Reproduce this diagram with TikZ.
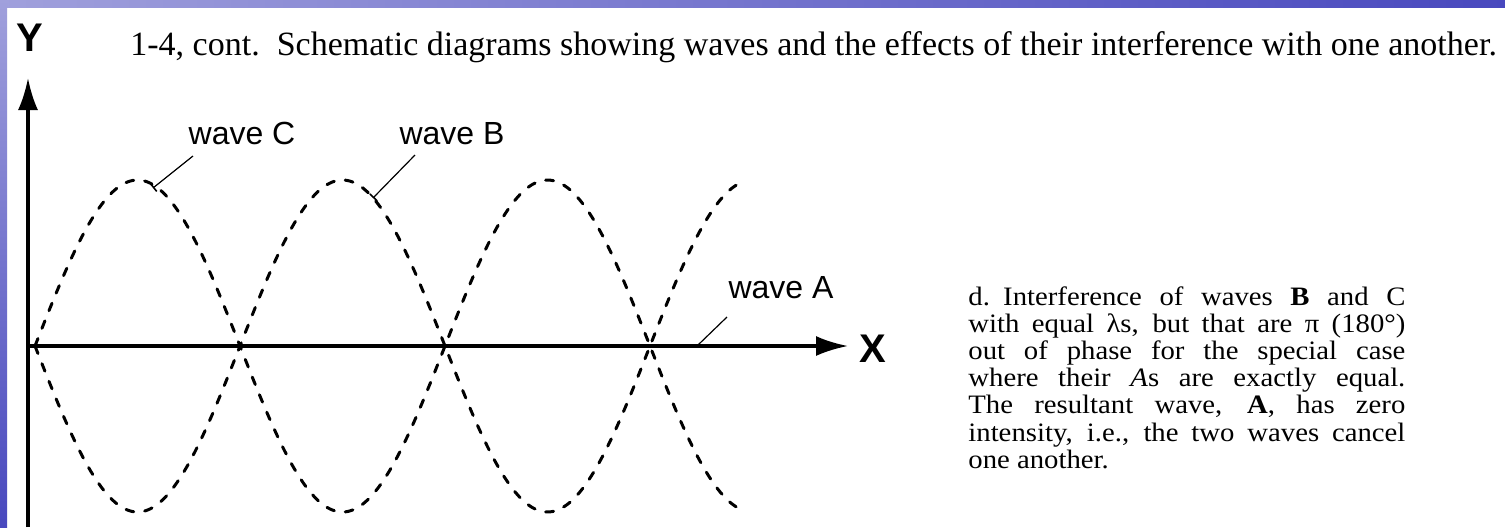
\documentclass[tikz,border=0pt]{standalone}
\usepackage{fontspec}
\setmainfont{Liberation Serif}
\setsansfont{Liberation Sans}
\newfontfamily\parafont{Liberation Serif}[FakeStretch=1.08]
\usetikzlibrary{arrows.meta}
\definecolor{frameA}{RGB}{160,160,220}
\definecolor{frameB}{RGB}{72,72,190}
\begin{document}
\begin{tikzpicture}[x=0.5pt,y=-0.5pt,
  axis/.style={line width=1.6pt,-{Latex[length=16pt,width=10pt]}},
  wave/.style={line width=1.5pt,dash pattern=on 4pt off 5.5pt,line cap=round},
  leader/.style={line width=0.6pt},
  lbl/.style={font=\sffamily\fontsize{16}{18}\selectfont,inner sep=0pt,anchor=base},
  axlbl/.style={font=\sffamily\bfseries\fontsize{20}{22}\selectfont,inner sep=0pt}]
\useasboundingbox (0,0) rectangle (1505,527);
\fill[white] (0,0) rectangle (1505,527);
\shade[left color=frameA,right color=frameB] (0,0) rectangle (1505,7);
\shade[top color=frameA,bottom color=frameB] (0,0) rectangle (7,527);

% title
\node[anchor=base west,inner sep=0pt,font=\fontsize{17}{20}\selectfont] (title) at (130,55)
  {1-4, cont.\ \ Schematic diagrams showing waves and the effects of their interference with one another.};

% axes
\coordinate (ybot) at (28,527);
\coordinate (ytop) at (28,78);
\coordinate (xorg) at (28,346);
\coordinate (xend) at (848,346);
\draw[axis] (ybot) -- (ytop);
\draw[axis] (xorg) -- (xend);
\node[axlbl] (ylab) at (30,38) {Y};
\node[axlbl] (xlab) at (873,349) {X};

% waves
\draw[wave] plot[domain=35:740,samples=160,smooth] (\x,{346-166*sin(0.87805*(\x-35))});
\draw[wave] plot[domain=35:740,samples=160,smooth] (\x,{346+166*sin(0.87805*(\x-35))});

% labels and leaders
\node[lbl] (wc) at (242,144) {wave C};
\node[lbl] (wb) at (452,144) {wave B};
\node[lbl] (wa) at (781,298) {wave A};
\coordinate (wcs) at (193,156);
\coordinate (wce) at (153,188);
\coordinate (wbs) at (415,155);
\coordinate (wbe) at (373,198);
\coordinate (was) at (727,317);
\coordinate (wae) at (698,345);
\draw[leader,-{Bar[width=5pt,line width=0.8pt]}] (wcs) -- (wce);
\draw[leader,-{Bar[width=5pt,line width=0.8pt]}] (wbs) -- (wbe);
\draw[leader] (was) -- (wae);

% description
\node[anchor=base west,inner sep=0pt] (desc) at (968,305)
 {\parbox[t]{218.5pt}{\parafont\fontsize{13.3}{13.6}\selectfont
 d.\enspace Interference of waves \textbf{B} and C\linebreak
 with equal λs, but that are π (180°)\linebreak
 out of phase for the special case\linebreak
 where their \textit{A}s are exactly equal.\linebreak
 The resultant wave, \textbf{A}, has zero\linebreak
 intensity, i.e., the two waves cancel\linebreak
 one another.}};
\end{tikzpicture}
\end{document}
